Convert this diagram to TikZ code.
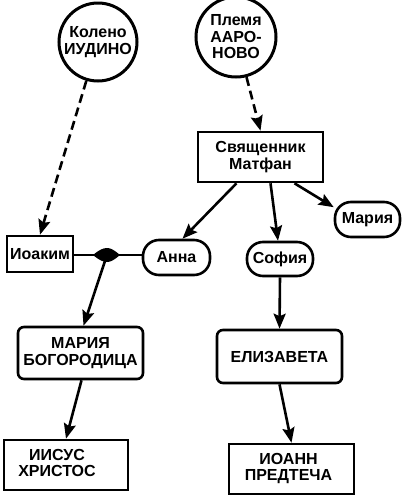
\documentclass[tikz,border=0pt]{standalone}
\usepackage{fontspec}
\setmainfont{Liberation Sans}
\usetikzlibrary{arrows.meta}
\begin{document}
\begin{tikzpicture}[x=1pt,y=-1pt,
  every node/.style={font=\fontsize{16}{16.5}\selectfont\bfseries, align=center, inner sep=0pt},
  tribe/.style={circle, draw, line width=3pt, minimum size=78pt},
  sqbox/.style={rectangle, draw, line width=2.6pt},
  rbox/.style={rectangle, draw, line width=2.6pt, rounded corners=6pt},
  pill/.style={rectangle, draw, line width=2.6pt, rounded corners=16pt},
  conn/.style={line width=2.6pt, -{Stealth[length=15pt,width=12pt,inset=2.5pt]}},
  dconn/.style={conn, dash pattern=on 9pt off 5pt}]
\useasboundingbox (0,0) rectangle (402,496);
\node[tribe] (kol) at (98,42) {Колено\\ИУДИНО};
\node[tribe, minimum size=80pt] (plem) at (236,37) {Племя\\ААРО-\\НОВО};
\node[sqbox, minimum width=125pt, minimum height=50pt] (svy) at (260.5,157) {Священник\\Матфан\hspace*{0pt}};
\node[sqbox, minimum width=66pt, minimum height=36pt] (ioa) at (40,254) {Иоаким};
\node[pill, minimum width=67pt, minimum height=35pt] (anna) at (176.5,257.5) {Анна};
\node[pill, minimum width=66pt, minimum height=34pt] (sof) at (280,259) {София};
\node[pill, minimum width=65pt, minimum height=35pt] (mar) at (367.5,219.5) {Мария};
\node[rbox, minimum width=125pt, minimum height=52pt] (mb) at (80.5,353) {МАРИЯ\\БОГОРОДИЦА};
\node[rbox, minimum width=125pt, minimum height=53pt] (el) at (279.5,356.5) {ЕЛИЗАВЕТА};
\node[sqbox, minimum width=124pt, minimum height=50pt] (ii) at (66,465) {\begin{tabular}{@{}c@{}}ИИСУС\\ХРИСТОС\end{tabular}\hspace*{18pt}};
\node[sqbox, minimum width=125pt, minimum height=50pt] (io) at (291.5,469) {\begin{tabular}{@{}c@{}}ИОАНН\\ПРЕДТЕЧА\end{tabular}\hspace*{6pt}};
\coordinate (j) at (107,255);
\draw[dconn] (kol) -- (ioa.north);
\draw[dconn] (plem) -- (svy.north);
\draw[conn] ([xshift=-24pt]svy.south) -- ([xshift=6pt]anna.north);
\draw[conn] ([xshift=10pt]svy.south) -- ([xshift=-2pt]sof.north);
\draw[conn] ([xshift=34pt]svy.south) -- (mar.160);
\draw[line width=2.6pt] (ioa.east |- j) -- (j) -- (anna.west |- j);
\fill (j) ++(-14,0) .. controls ++(6,-5) and ++(-4,0) .. ++(14,-7) .. controls ++(4,0) and ++(-6,-5) .. ++(13,7) .. controls ++(-6,5) and ++(4,0) .. ++(-13,7) .. controls ++(-4,0) and ++(6,5) .. cycle;
\draw[conn] (j) -- ([xshift=3pt]mb.north);
\draw[conn] (sof.south) -- (el.north);
\draw[conn] ([xshift=1pt]mb.south) -- (ii.north);
\draw[conn] (el.south) -- (io.north);
\end{tikzpicture}
\end{document}
